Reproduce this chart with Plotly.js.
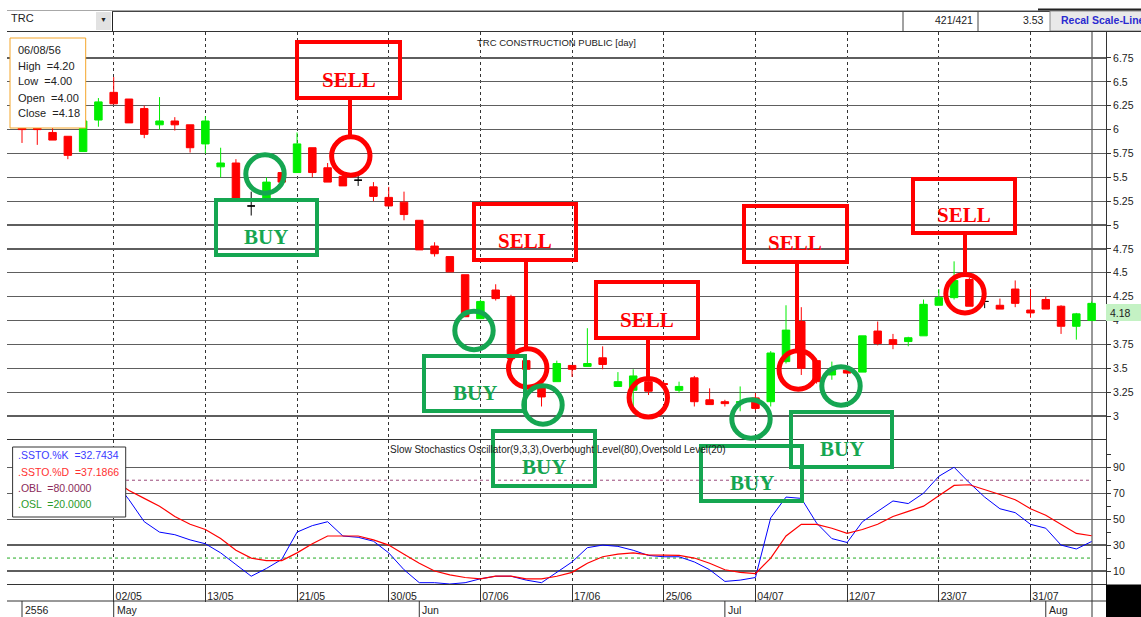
<!DOCTYPE html>
<html><head><meta charset="utf-8">
<script src="https://cdn.plot.ly/plotly-3.0.1.min.js"></script>
<style>html,body{margin:0;padding:0;background:#fff;overflow:hidden}#chart{width:1141px;height:617px}</style>
</head><body><div id="chart"></div>
<script>
// ---------- data ----------
const dates = ['23/04','24/04','25/04','26/04','29/04','30/04','02/05','03/05','07/05','08/05','09/05','10/05','13/05','14/05','15/05','16/05','17/05','20/05','21/05','22/05','23/05','27/05','28/05','29/05','30/05','31/05','03/06','04/06','05/06','06/06','07/06','10/06','11/06','12/06','13/06','14/06','17/06','18/06','19/06','20/06','21/06','24/06','25/06','26/06','27/06','28/06','01/07','02/07','04/07','05/07','08/07','09/07','10/07','11/07','12/07','15/07','16/07','17/07','18/07','19/07','23/07','24/07','25/07','26/07','29/07','30/07','31/07','01/08','02/08','05/08','06/08'];
const openP  = [6.03,6.03,5.97,5.93,5.77,6.10,6.39,6.32,6.22,6.05,6.09,6.05,5.85,5.61,5.65,5.20,5.28,5.55,5.55,5.81,5.60,5.51,5.47,5.40,5.29,5.24,5.05,4.78,4.67,4.48,4.02,4.32,4.25,3.58,3.31,3.36,3.53,3.52,3.61,3.31,3.27,3.36,3.34,3.27,3.40,3.17,3.15,3.14,3.19,3.15,3.57,3.99,3.58,3.43,3.48,3.46,3.89,3.80,3.78,3.84,4.16,4.24,4.43,4.20,4.16,4.33,4.11,4.22,4.15,3.94,4.00];
const highP  = [6.03,6.03,6.02,5.93,6.09,6.33,6.55,6.32,6.25,6.34,6.13,6.05,6.14,5.81,5.69,5.35,5.50,5.55,5.97,5.81,5.65,5.55,5.53,5.45,5.40,5.35,5.05,4.82,4.67,4.48,4.22,4.38,4.27,3.60,3.35,3.58,3.53,3.92,3.73,3.46,3.49,3.37,3.36,3.36,3.42,3.29,3.17,3.31,3.24,3.68,4.16,4.14,3.60,3.57,3.50,3.84,3.99,3.86,3.83,4.22,4.33,4.62,4.45,4.25,4.23,4.42,4.33,4.25,4.16,4.08,4.20];
const lowP   = [5.86,5.84,5.89,5.69,5.77,6.03,6.27,6.07,5.91,6.00,5.99,5.76,5.75,5.50,5.27,5.10,5.28,5.45,5.55,5.50,5.45,5.41,5.41,5.25,5.20,5.05,4.74,4.67,4.51,4.04,4.02,4.21,3.58,3.48,3.10,3.36,3.41,3.52,3.49,3.31,3.10,3.22,3.32,3.24,3.10,3.12,3.10,3.05,3.06,3.10,3.55,3.43,3.34,3.38,3.44,3.46,3.74,3.70,3.73,3.84,4.16,4.22,4.15,4.13,4.12,4.14,4.03,4.12,3.86,3.80,4.00];
const closeP = [6.00,6.00,5.89,5.73,6.09,6.29,6.27,6.07,5.95,6.09,6.05,5.81,6.09,5.65,5.27,5.20,5.45,5.45,5.85,5.55,5.45,5.41,5.47,5.30,5.20,5.11,4.74,4.70,4.51,4.04,4.20,4.23,3.60,3.49,3.20,3.55,3.49,3.55,3.54,3.36,3.42,3.26,3.33,3.31,3.15,3.12,3.13,3.15,3.08,3.66,3.90,3.50,3.36,3.48,3.45,3.84,3.76,3.75,3.82,4.17,4.24,4.42,4.15,4.20,4.12,4.18,4.08,4.12,3.94,4.07,4.18];
const stoK = [null,null,null,null,null,null,80,65,48,40,38,34,31,24,15,6,12,19,40,45,48,37,36,33,24,11,1,1,0,1,4,6,6,3,1,9,17,28,30,29,26,22,21,21,17,11,2,3,5,51,67,66,47,35,32,48,56,64,62,70,83,90,78,67,58,55,46,43,30,27,32.7434];
const stoD = [null,null,null,null,null,null,80,72,66,60,52,46,42,35,26,20,18,18,24,31,37,37,37,34,30,23,16,10,7,5,4,6,6,4,4,6,9,16,21,23,24,22.5,22,22,20,16,11,9,8,20,37,46,46,43,39,42,46,52,56,60,68,76,76.5,73,69,65,58,53,46,39,37.1866];
const obLevel = 80, osLevel = 20;
const tickIdx  = [6,12,18,24,30,36,42,48,54,60,66];
const tickText = ['02/05','13/05','21/05','30/05','07/06','17/06','25/06','04/07','12/07','23/07','31/07'];
const monthIdx  = [0,6,26,46,67];
const monthText = ['2556','May','Jun','Jul','Aug'];
const priceTicks = [3,3.25,3.5,3.75,4,4.25,4.5,4.75,5,5.25,5.5,5.75,6,6.25,6.5,6.75];
const stoTicks = [10,30,50,70,90];
const stoMinor = [20,40,60,80,100];

// ---------- geometry helpers (pixel -> paper) ----------
const L=7, R=1106, T=32, B=584, W=R-L, H=B-T;
const fx = X => (X-L)/W;
const fy = Y => (B-Y)/H;
const splitY = fy(440);

const FONT = 'Liberation Sans, Arial, sans-serif';
const SERIF = 'Liberation Serif, Times New Roman, serif';
const RED = '#ff0000', GRN = '#15a651';

// ---------- traces ----------
const idx = dates.map((d,i)=>i);
const isDoji = idx.map(i => openP[i] === closeP[i]);
const sub = (arr, want) => idx.filter(i => isDoji[i] === want).map(i => arr[i]);

const candles = {
  type:'candlestick', xaxis:'x', yaxis:'y',
  x: idx.filter(i=>!isDoji[i]), open: sub(openP,false), high: sub(highP,false), low: sub(lowP,false), close: sub(closeP,false),
  increasing:{line:{color:'#00ee00', width:1}, fillcolor:'#00ee00'},
  decreasing:{line:{color:RED, width:1}, fillcolor:RED},
  whiskerwidth:0, hoverinfo:'skip'
};
const doji = {
  type:'candlestick', xaxis:'x', yaxis:'y',
  x: idx.filter(i=>isDoji[i]), open: sub(openP,true), high: sub(highP,true), low: sub(lowP,true), close: sub(closeP,true),
  increasing:{line:{color:'#000', width:1}, fillcolor:'#000'},
  decreasing:{line:{color:'#000', width:1}, fillcolor:'#000'},
  whiskerwidth:0, hoverinfo:'skip'
};
const kLine = {type:'scatter', mode:'lines', xaxis:'x2', yaxis:'y2', x:idx, y:stoK, line:{color:'#0000ff', width:1}, hoverinfo:'skip'};
const dLine = {type:'scatter', mode:'lines', xaxis:'x2', yaxis:'y2', x:idx, y:stoD, line:{color:RED, width:1.2}, hoverinfo:'skip'};

// ---------- decorations (pixel space) ----------
const sellBoxes=[[297,42,400,98],[474,204,576,260],[596,282,698,338],[744,206,847,262],[913,179,1015,233]];
const sellLabelPos=[[349,80],[525,241],[647,320],[795,243],[964,215]];
const sellStems=[[350,98,136],[526,260,348],[648,338,377],[797,262,349],[965,233,273]];
const sellRings=[[350.8,156],[527.7,368],[648.3,397.8],[798.3,370],[965,293.7]];
const buyRings=[[265,174],[474,330.5],[543,405],[751,419],[841,386]];
const buyBoxes=[[216,200,317,255],[424,356,525,411],[493,431,595,486],[701,446,802,501],[791,412,892,467]];
const buyLabelPos=[[266,237],[475,393],[544,467],[752,483],[842,449]];
const ringR = 19.2;

const shapes = [];
const ann = [];
const pLine = (x0,y0,x1,y1,color,width,layer,dash) => shapes.push({type:'line',xref:'paper',yref:'paper',x0:fx(x0),y0:fy(y0),x1:fx(x1),y1:fy(y1),line:{color,width,dash:dash||'solid'},layer:layer||'above'});
const pRect = (x0,y0,x1,y1,lineColor,width,fill,layer) => shapes.push({type:'rect',xref:'paper',yref:'paper',x0:fx(x0),y0:fy(y1),x1:fx(x1),y1:fy(y0),line:{color:lineColor,width:width},fillcolor:fill||'rgba(0,0,0,0)',layer:layer||'above'});
const pText = (x,y,text,opts) => ann.push(Object.assign({xref:'paper',yref:'paper',x:fx(x),y:fy(y),text,showarrow:false,xanchor:'left',yanchor:'middle',font:{family:FONT,size:10,color:'#222'}},opts||{}));

// frame / header
pLine(7,10.5,1141,10.5,'#a8a8a8',1);
pRect(96,12,111,30,'rgba(0,0,0,0)',0,'#e2e2e2');
pText(103.5,19,'▼',{xanchor:'center',font:{family:FONT,size:7,color:'#222'}});
pText(9,18,'TRC',{font:{family:FONT,size:11,color:'#222'}});
pLine(112.5,11,112.5,31,'#222',1);
pLine(112,11.5,1050,11.5,'#444',1);
pLine(903,11,903,31,'#444',1);
pLine(978,11,978,31,'#444',1);
pRect(1050,11,1145,31,'#888',1,'#e9e9e9');
pLine(1038,9.5,1141,9.5,'#222',2);
pText(975,20,'421/421',{xanchor:'right',font:{family:FONT,size:10.5,color:'#222'}});
pText(1046,20,'3.53',{xanchor:'right',font:{family:FONT,size:10.5,color:'#222'}});
pText(1059,20,'<b>Recal Scale-Line</b>',{font:{family:FONT,size:10.5,color:'#2b2bd0'}});
pLine(7,31.5,1141,31.5,'#333',1);
// right-side extra vertical line
pLine(1092,32,1092,617,'#333',1,'below');
// bottom rows
pLine(7,601,1106,601,'#333',1);
pRect(1106,584.5,1145,620,'#000',0,'#000');
// current price tag
pRect(1106,304,1145,321,'rgba(0,0,0,0)',0,'#c4f2c4');
pText(1108,312.5,closeP[closeP.length-1].toFixed(2),{font:{family:FONT,size:10.5,color:'#222'}});

// titles
pText(556.5,43,'TRC CONSTRUCTION PUBLIC [day]',{xanchor:'center',font:{family:FONT,size:9.5,color:'#222'}});
pText(558,449,'Slow Stochastics Oscillator(9,3,3),Overbought Level('+obLevel+'),Oversold Level('+osLevel+')',{xanchor:'center',font:{family:FONT,size:10,color:'#222'}});

// info box (last bar)
const last = closeP.length-1;
pRect(10,38,85.7,128,'#f4a62a',1,'#fff');
pText(16,50,dates[last]+'/56',{font:{family:FONT,size:11,color:'#222'}});
pText(16,65.5,'High  ='+highP[last].toFixed(2),{font:{family:FONT,size:11,color:'#222'}});
pText(16,81,'Low  ='+lowP[last].toFixed(2),{font:{family:FONT,size:11,color:'#222'}});
pText(16,97.5,'Open  ='+openP[last].toFixed(2),{font:{family:FONT,size:11,color:'#222'}});
pText(16,113,'Close  ='+closeP[last].toFixed(2),{font:{family:FONT,size:11,color:'#222'}});

// stochastic legend box
pRect(12.6,447,125.7,517,'#333',1,'#fff');
pText(16,455,'.SSTO.%K  ='+stoK[last].toFixed(4),{font:{family:FONT,size:10.5,color:'#3b3bff'}});
pText(16,471.7,'.SSTO.%D  ='+stoD[last].toFixed(4),{font:{family:FONT,size:10.5,color:'#ff3030'}});
pText(16,488.3,'.OBL  ='+obLevel.toFixed(4),{font:{family:FONT,size:10.5,color:'#8a2a5a'}});
pText(16,504,'.OSL  ='+osLevel.toFixed(4),{font:{family:FONT,size:10.5,color:'#2a9a2a'}});

// over-bought / over-sold dotted levels
shapes.push({type:'line',xref:'paper',yref:'y2',x0:fx(126),x1:fx(1092),y0:obLevel,y1:obLevel,line:{color:'#9a4a7a',width:1,dash:'dot'},layer:'above'});
shapes.push({type:'line',xref:'paper',yref:'y2',x0:0,x1:fx(1092),y0:osLevel,y1:osLevel,line:{color:'#22aa22',width:1,dash:'dot'},layer:'below'});

// month row
monthIdx.forEach((m,k)=>{
  shapes.push({type:'line',xref:'x2',yref:'paper',x0:m,x1:m,y0:fy(601),y1:fy(617),line:{color:'#333',width:1},layer:'above'});
  ann.push({xref:'x2',yref:'paper',x:m,y:fy(610),text:monthText[k],showarrow:false,xanchor:'left',yanchor:'middle',xshift:1,font:{family:FONT,size:10.5,color:'#222'}});
});

// sell / buy markers
sellBoxes.forEach(b=>pRect(b[0],b[1],b[2],b[3],RED,4));
sellStems.forEach(s=>pLine(s[0],s[1],s[0],s[2],RED,4));
sellRings.forEach(c=>shapes.push({type:'circle',xref:'paper',yref:'paper',x0:fx(c[0]-ringR),x1:fx(c[0]+ringR),y0:fy(c[1]+ringR),y1:fy(c[1]-ringR),line:{color:RED,width:5},layer:'above'}));
buyRings.forEach(c=>shapes.push({type:'circle',xref:'paper',yref:'paper',x0:fx(c[0]-ringR),x1:fx(c[0]+ringR),y0:fy(c[1]+ringR),y1:fy(c[1]-ringR),line:{color:GRN,width:5},layer:'above'}));
buyBoxes.forEach(b=>pRect(b[0],b[1],b[2],b[3],GRN,4));
sellLabelPos.forEach(p=>pText(p[0],p[1],'<b>SELL</b>',{xanchor:'center',font:{family:SERIF,size:21,color:RED}}));
buyLabelPos.forEach(p=>pText(p[0],p[1],'<b>BUY</b>',{xanchor:'center',font:{family:SERIF,size:21,color:GRN}}));

const xr = [-0.982, 70.942];
const layout = {
  width:1141, height:617,
  margin:{l:L, r:1141-R, t:T, b:617-B, pad:0},
  paper_bgcolor:'#fff', plot_bgcolor:'rgba(0,0,0,0)',
  showlegend:false, dragmode:false,
  font:{family:FONT, size:10, color:'#222'},
  xaxis:{domain:[0,1], anchor:'y', range:xr, type:'linear', tickmode:'array', tickvals:tickIdx, showticklabels:false, ticks:'',
         showgrid:true, griddash:'dot', gridcolor:'#333', gridwidth:1, zeroline:false, showline:false, rangeslider:{visible:false}, fixedrange:true},
  yaxis:{domain:[splitY,1], anchor:'x', side:'right', range:[2.749,7.022], tickmode:'array', tickvals:priceTicks, ticktext:priceTicks.map(v=>String(v)),
         ticks:'outside', ticklen:4, tickcolor:'#333', showline:true, linecolor:'#333', linewidth:1, showgrid:true, gridcolor:'#5e5e5e', gridwidth:1.2, zeroline:false, fixedrange:true,
         tickfont:{family:FONT,size:10.5,color:'#222'}},
  xaxis2:{domain:[0,1], anchor:'y2', range:xr, type:'linear', tickmode:'array', tickvals:tickIdx, ticktext:tickText,
          ticks:'outside', ticklen:17, tickcolor:'#333', tickwidth:1, showline:true, linecolor:'#333', linewidth:1, mirror:true,
          showgrid:true, griddash:'dot', gridcolor:'#333', gridwidth:1, zeroline:false, fixedrange:true,
          ticklabelshift:15, ticklabelstandoff:-15, tickfont:{family:FONT,size:10.5,color:'#222'}},
  yaxis2:{domain:[0,splitY], anchor:'x2', side:'right', range:[0,111], tickmode:'array', tickvals:stoTicks,
          ticks:'outside', ticklen:4, tickcolor:'#333', showline:true, linecolor:'#333', showgrid:true, gridcolor:'#5e5e5e', gridwidth:1.2, zeroline:false, fixedrange:true,
          tickfont:{family:FONT,size:10.5,color:'#222'},
          minor:{tickmode:'array', tickvals:stoMinor, ticks:'outside', ticklen:4, tickcolor:'#333', showgrid:false}},
  shapes, annotations:ann
};
Plotly.newPlot('chart',[candles,doji,kLine,dLine],layout,{staticPlot:true, displayModeBar:false});
</script>
</body></html>
